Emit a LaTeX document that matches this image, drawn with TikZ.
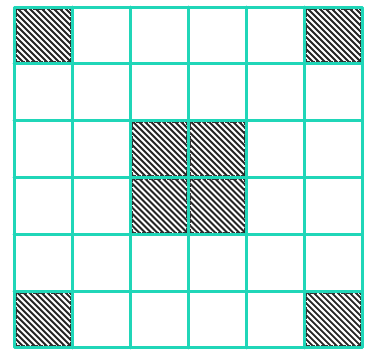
\documentclass[tikz,border=0pt]{standalone}
\definecolor{gridteal}{RGB}{32,214,184}
\begin{document}
\begin{tikzpicture}[x=1pt,y=-1pt,
  gridline/.style={draw=gridteal,line width=3pt,line cap=round,line join=round},
  hatchline/.style={draw=black!85,line width=1.9pt},
  hatchedge/.style={draw=black!80,line width=1pt,dash pattern=on 3pt off 1.5pt}]
\useasboundingbox (0,0) rectangle (375,357);
\def\ox{14}\def\oy{7}\def\cw{58}\def\ch{56.83}
% hatched cells
\foreach \c/\r in {0/0,5/0,2/2,3/2,2/3,3/3,0/5,5/5}{
  \begin{scope}
    \clip (\ox+\c*\cw,\oy+\r*\ch) rectangle (\ox+\c*\cw+\cw,\oy+\r*\ch+\ch);
    \foreach \k in {-66,-60,...,66}{
      \draw[hatchline] (\ox+\c*\cw+\k,\oy+\r*\ch-2) -- ++(\ch+4,\ch+4);
    }
  \end{scope}
}
% grid
\draw[gridline] (\ox,\oy) rectangle (\ox+6*\cw,\oy+6*\ch);
\foreach \i in {1,...,5}{
  \draw[gridline] (\ox+\i*\cw,\oy) -- (\ox+\i*\cw,\oy+6*\ch);
  \draw[gridline] (\ox,\oy+\i*\ch) -- (\ox+6*\cw,\oy+\i*\ch);
}
% black edges of hatched cells
\foreach \c/\r in {0/0,5/0,2/2,3/2,2/3,3/3,0/5,5/5}{
  \draw[hatchedge] (\ox+\c*\cw+2,\oy+\r*\ch+2) rectangle (\ox+\c*\cw+\cw-2,\oy+\r*\ch+\ch-2);
}
\end{tikzpicture}
\end{document}
